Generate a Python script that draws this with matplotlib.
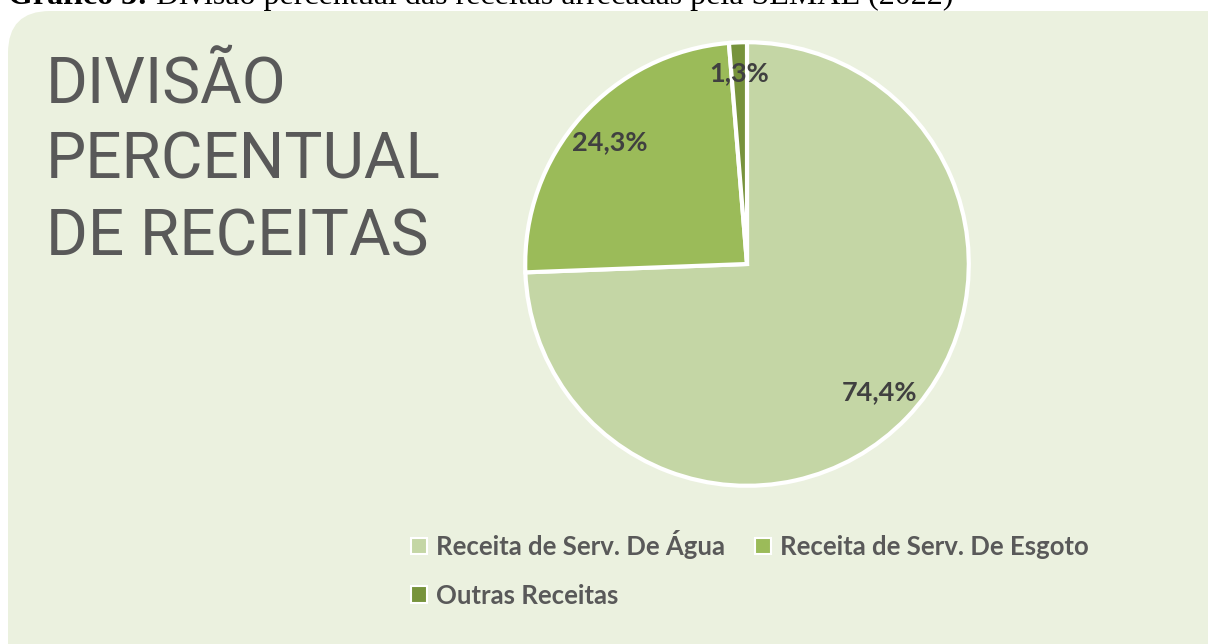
import matplotlib.pyplot as plt
from matplotlib.patches import FancyBboxPatch, Patch

# data
categorias = ['Receita de Serv. De Água', 'Receita de Serv. De Esgoto', 'Outras Receitas']
valores = [74.4, 24.3, 1.3]
cores = ['#C4D6A5', '#9BBB59', '#77933C']
titulo = ['DIVISÃO', 'PERCENTUAL', 'DE RECEITAS']
legenda_bold = 'Gráfico 3:'
legenda_resto = ' Divisão percentual das receitas arrecadas pela SEMAE (2022)'

W, H = 1208, 644
fig = plt.figure(figsize=(W / 100, H / 100), dpi=100)
fig.patch.set_facecolor('white')

# background axes in pixel coordinates (y down)
bg = fig.add_axes([0, 0, 1, 1])
bg.set_xlim(0, W)
bg.set_ylim(H, 0)
bg.axis('off')

box = FancyBboxPatch((8, 11), 1300, 700, boxstyle='round,pad=0,rounding_size=42',
                     facecolor='#EBF1DF', edgecolor='none')
bg.add_patch(box)

# caption cut off at the top
t1 = bg.text(8, 4, legenda_bold, fontsize=23, fontweight='bold',
             family='Liberation Serif', color='black', va='baseline')
fig.canvas.draw()
ext = t1.get_window_extent()
bg.text(8 + ext.width, 4, legenda_resto, fontsize=23,
        family='Liberation Serif', color='black', va='baseline')

# title, one line at a time
for i, linha in enumerate(titulo):
    bg.text(46, 102 + i * 76.5, linha, fontsize=46, family='Roboto',
            color='#595959', va='baseline')

# pie
cx, cy, r = 747, 264, 224
ax = fig.add_axes([(cx - r) / W, (H - cy - r) / H, 2 * r / W, 2 * r / H])
wedges, texts, autotexts = ax.pie(
    valores, colors=cores, startangle=90, counterclock=False,
    autopct=lambda p: f'{p:.1f}%'.replace('.', ','), pctdistance=0.83,
    wedgeprops=dict(edgecolor='white', linewidth=3),
    textprops=dict(fontsize=19.5, fontweight='bold', color='#404040', family='Lato'))
autotexts[2].set_position((autotexts[2].get_position()[0], 0.86))
ax.set_xlim(-1.01, 1.01)
ax.set_ylim(-1.01, 1.01)

# legend
handles = [Patch(facecolor=c, edgecolor='white', linewidth=1.5, label=l)
           for c, l in zip(cores, categorias)]
order = [0, 2, 1]
fig.legend([handles[i] for i in order], [categorias[i] for i in order],
           ncol=2, loc='upper left', bbox_to_anchor=(388 / W, 1 - 507 / H),
           frameon=False, handlelength=0.6, handleheight=0.6, handletextpad=0.35,
           columnspacing=1.2, labelspacing=0.95,
           prop=dict(family='Lato', weight='bold', size=18.5), labelcolor='#595959')

fig.savefig('out.png', dpi=100)
